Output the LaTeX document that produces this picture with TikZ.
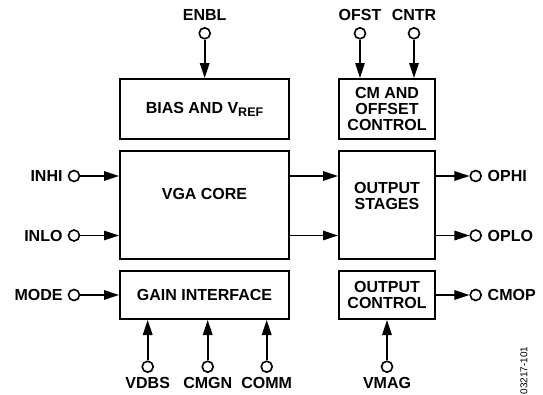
\documentclass[tikz,border=0pt]{standalone}
\usepackage{fontspec}
\setmainfont{Liberation Sans}
\usetikzlibrary{positioning,arrows.meta}

\begin{document}
\begin{tikzpicture}
  [x=1pt,y=-1pt,>={Triangle[length=15pt,width=9.5pt]},
   every node/.style={font=\bfseries\fontsize{16}{15.7}\selectfont,align=center,inner sep=0pt},
   blk/.style={draw,line width=2pt,minimum width=169pt},
   sblk/.style={draw,line width=2pt,minimum width=96pt},
   term/.style={draw,circle,line width=1.6pt,minimum size=11pt},
   wire/.style={line width=1.6pt,->}]
  \useasboundingbox (0,0) rectangle (543,394);

  \node [blk,minimum height=60pt] (bias) at (204.5,109) {BIAS AND V\raisebox{-3pt}{\fontsize{12.5}{12}\selectfont REF}};
  \node [blk,minimum height=108pt] (vga) at (204.5,205) {VGA CORE\\[6pt]};
  \node [blk,minimum height=48pt] (gain) at (204.5,295) {GAIN INTERFACE};
  \node [sblk,minimum height=60pt] (cmoff) at (387,109) {CM AND\\OFFSET\\CONTROL};
  \node [sblk,minimum height=108pt] (outst) at (387,205) {OUTPUT\\STAGES\\[3pt]};
  \node [sblk,minimum height=48pt] (outctl) at (387,295) {OUTPUT\\CONTROL};

  \node [term] (enbl) at (204.7,33.3) {};
  \node [term] (ofst) at (360,33.3) {};
  \node [term] (cntr) at (414,33.3) {};
  \node [term] (inhi) at (74,176) {};
  \node [term] (inlo) at (74,235.5) {};
  \node [term] (mode) at (74,295) {};
  \node [term] (vdbs) at (147.7,366.7) {};
  \node [term] (cmgn) at (207.7,366.7) {};
  \node [term] (comm) at (266.7,366.7) {};
  \node [term] (vmag) at (387,366.7) {};
  \node [term] (ophi) at (475.7,176) {};
  \node [term] (oplo) at (475.7,235.5) {};
  \node [term] (cmop) at (475.7,295) {};

  \node [above=6.5pt of enbl] (enbl-t) {ENBL};
  \node [above=6.5pt of ofst] (ofst-t) {OFST};
  \node [above=6.5pt of cntr] (cntr-t) {CNTR};
  \node [left=5pt of inhi] (inhi-t) {INHI};
  \node [left=5pt of inlo] (inlo-t) {INLO};
  \node [left=5pt of mode] (mode-t) {MODE};
  \node [below=4.5pt of vdbs] (vdbs-t) {VDBS};
  \node [below=4.5pt of cmgn] (cmgn-t) {CMGN};
  \node [below=4.5pt of comm] (comm-t) {COMM};
  \node [below=4.5pt of vmag] (vmag-t) {VMAG};
  \node [right=5.5pt of ophi] (ophi-t) {OPHI};
  \node [right=5.5pt of oplo] (oplo-t) {OPLO};
  \node [right=5.5pt of cmop] (cmop-t) {CMOP};

  \node [rotate=90,anchor=east,font=\fontsize{10}{10}\selectfont] (figid) at (524,346.5) {03217-101};

  \foreach \p/\b in {enbl/bias,ofst/cmoff,cntr/cmoff}
    \draw [wire] (\p) -- (\p |- \b.north);
  \foreach \p/\b in {vdbs/gain,cmgn/gain,comm/gain,vmag/outctl}
    \draw [wire] (\p) -- (\p |- \b.south);
  \foreach \p/\b in {inhi/vga,inlo/vga,mode/gain}
    \draw [wire] (\p) -- (\p -| \b.west);
  \foreach \p/\b in {ophi/outst,oplo/outst,cmop/outctl}
    \draw [wire] (\p -| \b.east) -- (\p);
  \foreach \p in {inhi,inlo}
    \draw [wire] (\p -| vga.east) -- (\p -| outst.west);

\end{tikzpicture}
\end{document}
